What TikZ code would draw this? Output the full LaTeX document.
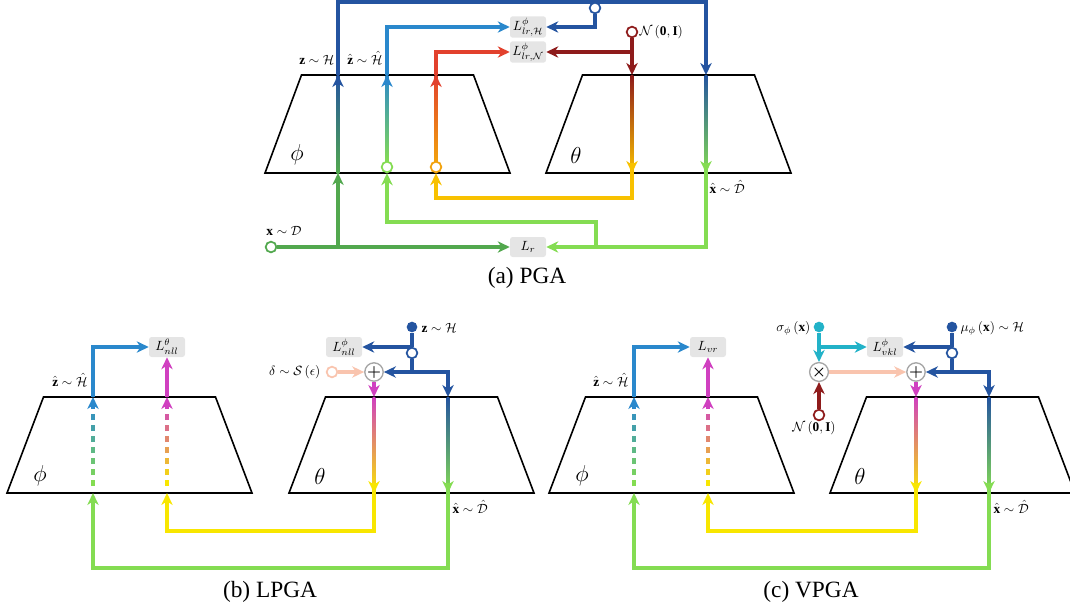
\documentclass[tikz,border=0pt]{standalone}
\usepackage{amsmath}
\usepackage{fontspec}
\setmainfont{Liberation Serif}
\usetikzlibrary{arrows.meta}
\pgfdeclarelayer{bg}
\pgfsetlayers{bg,main}
\definecolor{cDB}{HTML}{2454A0}
\definecolor{cLB}{HTML}{2A88CC}
\definecolor{cRed}{HTML}{E2412D}
\definecolor{cOr}{HTML}{F2A20C}
\definecolor{cDR}{HTML}{8E1B1B}
\definecolor{cGold}{HTML}{F8C100}
\definecolor{cYel}{HTML}{F8E600}
\definecolor{cDG}{HTML}{52A84E}
\definecolor{cLG}{HTML}{84DC52}
\definecolor{cMag}{HTML}{D040C0}
\definecolor{cSal}{HTML}{F9C4AE}
\definecolor{cCy}{HTML}{22B2C8}
\newcommand\trapz[3]{\draw[trap] ({#1+36.5},#2) -- ({#1+208.5},#2) -- ({#1+245},#3) -- (#1,#3) -- cycle;}
\newcommand\gradln[5]{\shade[top color=#4,bottom color=#5] ({#1-1.35},#2) rectangle ({#1+1.35},#3);}
\newcommand\dgradln[5]{\foreach \i in {0,...,7}{\pgfmathtruncatemacro\pct{100*\i/7}\pgfmathsetmacro\ya{#3-7-11*\i}\draw[line width=2.3pt,color=#4!\pct!#5] (#1,\ya) -- (#1,\ya-6);}}
\newcommand\tipup[3]{\draw[arr,#3] (#1,{#2+10}) -- (#1,#2);}
\newcommand\tipdn[3]{\draw[arr,#3] (#1,{#2-10}) -- (#1,#2);}
\begin{document}
\begin{tikzpicture}[x=0.75pt,y=-0.75pt,
  ln/.style={line width=2.3pt},
  arr/.style={line width=2.3pt,-{Stealth[length=9pt,width=8.5pt,inset=2.8pt]}},
  trap/.style={draw=black,line width=1.2pt},
  lossbox/.style={fill=gray!20,rounded corners=2pt,minimum width=27pt,minimum height=15pt,inner sep=1pt},
  ocirc/.style={circle,draw,line width=1.3pt,fill=white,minimum size=8pt,inner sep=0pt},
  fcirc/.style={circle,fill,minimum size=8pt,inner sep=0pt},
  opcirc/.style={circle,draw=gray!70,line width=1pt,fill=white,minimum size=13pt,inner sep=0pt,font=\large},
  lbl/.style={inner sep=1pt},
  greek/.style={font=\fontsize{17}{20}\selectfont},
  captxt/.style={font=\fontsize{17.5}{20}\selectfont}]
\useasboundingbox (0,0) rectangle (1070,611);
% ================= (a) PGA =================
\node[lossbox] (Llh) at (528,27) {$L^{\phi}_{lr,\mathcal{H}}$};
\node[lossbox] (Lln) at (528,52) {$L^{\phi}_{lr,\mathcal{N}}$};
\node[lossbox] (Lr) at (528,247) {$L_r$};
\node[ocirc,draw=cDG] (xd) at (271,247) {};
\node[ocirc,draw=cDR] (nz) at (632,32) {};
\node[ocirc,draw=cDB] (zt) at (595,8) {};
\node[ocirc,draw=cLG] (cz) at (387,167) {};
\node[ocirc,draw=cOr] (cr) at (436,167) {};
\coordinate (azT) at (338,75); \coordinate (azB) at (338,173);
\coordinate (bzT) at (387,75);
\coordinate (arT) at (436,75);
\coordinate (nzT) at (632,75); \coordinate (nzB) at (632,173);
\coordinate (bxT) at (706,75); \coordinate (bxB) at (706,173);
\coordinate (atop) at (706,2);
\coordinate (ay) at (632,198);
\coordinate (ag1) at (596,247); \coordinate (ag2) at (596,222);
\node[lbl,anchor=base east] (lz) at (336,64) {$\mathbf{z}\sim\mathcal{H}$};
\node[lbl,anchor=base east] (lzh) at (384,64) {$\hat{\mathbf{z}}\sim\hat{\mathcal{H}}$};
\node[lbl,anchor=west] (lnz) at (638,32) {$\mathcal{N}\left(\mathbf{0},\mathbf{I}\right)$};
\node[lbl] (lx) at (284,231) {$\mathbf{x}\sim\mathcal{D}$};
\node[lbl,anchor=west] (lxh) at (708,187) {$\hat{\mathbf{x}}\sim\hat{\mathcal{D}}$};
\node[greek] (phia) at (297,155) {$\phi$};
\node[greek] (tha) at (576,155) {$\theta$};
\node[captxt] (capa) at (527,278) {(a) PGA};
\begin{pgfonlayer}{bg}
\trapz{265}{75}{173}
\trapz{546}{75}{173}
\gradln{338}{75}{173}{cDB}{cDG}
\gradln{387}{75}{162}{cLB}{cLG}
\gradln{436}{75}{162}{cRed}{cOr}
\gradln{632}{75}{173}{cDR}{cGold}
\gradln{706}{75}{173}{cDB}{cLG}
\tipup{338}{75}{cDB}
\tipup{387}{75}{cLB}
\tipup{436}{75}{cRed}
\tipdn{632}{173}{cGold}
\tipdn{706}{173}{cLG}
\draw[arr,cDG] (xd) -- (Lr);
\draw[arr,cDG] (xd -| azB) -- (azB);
\draw[arr,cDB] (azT) |- (atop) -- (bxT);
\draw[arr,cDB] (zt) |- (Llh);
\draw[arr,cLB] (bzT) |- (Llh);
\draw[arr,cRed] (arT) |- (Lln);
\draw[arr,cDR] (nz) -- (nzT);
\draw[arr,cDR] (nz |- Lln) -- (Lln);
\draw[arr,cGold] (nzB) -- (ay) -| (cr);
\draw[arr,cLG] (bxB) |- (Lr);
\draw[arr,cLG] (ag1) -- (ag2) -| (cz);
\end{pgfonlayer}
% ================= (b) LPGA =================
\node[lossbox] (Lnt) at (167,347) {$L^{\theta}_{nll}$};
\node[lossbox] (Lnp) at (344,347) {$L^{\phi}_{nll}$};
\node[fcirc,cDB] (zb) at (412,327) {};
\node[ocirc,draw=cDB] (zo) at (412,353) {};
\node[opcirc] (pl) at (374,372) {$\boldsymbol{+}$};
\node[ocirc,draw=cSal] (dl) at (332,372) {};
\coordinate (bzT) at (93,397); \coordinate (bzB) at (93,493);
\coordinate (bmT) at (167,397); \coordinate (bmB) at (167,493);
\coordinate (bpT) at (374,397); \coordinate (bpB) at (374,493);
\coordinate (bbT) at (448,397); \coordinate (bbB) at (448,493);
\coordinate (by) at (374,531); \coordinate (bg) at (448,568);
\node[lbl,anchor=base east] (lzb) at (89,386) {$\hat{\mathbf{z}}\sim\hat{\mathcal{H}}$};
\node[lbl,anchor=east] (ldb) at (322,372) {$\delta\sim\mathcal{S}\left(\epsilon\right)$};
\node[lbl,anchor=west] (lzzb) at (420,328) {$\mathbf{z}\sim\mathcal{H}$};
\node[lbl,anchor=west] (lxb) at (451,507) {$\hat{\mathbf{x}}\sim\hat{\mathcal{D}}$};
\node[greek] (phib) at (40,476) {$\phi$};
\node[greek] (thb) at (320,476) {$\theta$};
\node[captxt] (capb) at (270,592) {(b) LPGA};
\begin{pgfonlayer}{bg}
\trapz{7}{397}{493}
\trapz{289}{397}{493}
\dgradln{93}{397}{493}{cLB}{cLG}
\dgradln{167}{397}{493}{cMag}{cYel}
\tipup{93}{397}{cLB}
\tipup{167}{397}{cMag}
\gradln{374}{397}{493}{cMag}{cYel}
\gradln{448}{397}{493}{cDB}{cLG}
\tipdn{374}{493}{cYel}
\tipdn{448}{493}{cLG}
\draw[arr,cLB] (bzT) |- (Lnt);
\draw[arr,cMag] (bmT) -- (Lnt);
\draw[ln,cDB] (zb) -- (zo);
\draw[arr,cDB] (zb |- Lnp) -- (Lnp);
\draw[arr,cDB] (zo) |- (pl);
\draw[arr,cDB] (zo |- pl) -| (bbT);
\draw[arr,cSal] (dl) -- (pl);
\draw[arr,cMag] (pl) -- (bpT);
\draw[arr,cYel] (bpB) -- (by) -| (bmB);
\draw[arr,cLG] (bbB) -- (bg) -| (bzB);
\end{pgfonlayer}
% ================= (c) VPGA =================
\node[lossbox] (Lvr) at (708,347) {$L_{vr}$};
\node[lossbox] (Lvk) at (885,347) {$L^{\phi}_{vkl}$};
\node[fcirc,cDB] (mu) at (952,327) {};
\node[ocirc,draw=cDB] (muo) at (952,353) {};
\node[opcirc] (pl2) at (916,372) {$\boldsymbol{+}$};
\node[fcirc,cCy] (sg) at (819,327) {};
\node[opcirc] (tm) at (819,372) {$\boldsymbol{\times}$};
\node[ocirc,draw=cDR] (nz2) at (819,415) {};
\coordinate (czT) at (634,397); \coordinate (czB) at (634,493);
\coordinate (cmT) at (708,397); \coordinate (cmB) at (708,493);
\coordinate (cpT) at (916,397); \coordinate (cpB) at (916,493);
\coordinate (ccT) at (989,397); \coordinate (ccB) at (989,493);
\coordinate (cy) at (916,531); \coordinate (cg) at (989,568);
\node[lbl,anchor=base east] (lzc) at (630,386) {$\hat{\mathbf{z}}\sim\hat{\mathcal{H}}$};
\node[lbl,anchor=east] (lsg) at (812,328) {$\sigma_{\phi}\left(\mathbf{x}\right)$};
\node[lbl,anchor=west] (lmu) at (959,328) {$\mu_{\phi}\left(\mathbf{x}\right)\sim\mathcal{H}$};
\node[lbl] (lnc) at (814,428) {$\mathcal{N}\left(\mathbf{0},\mathbf{I}\right)$};
\node[lbl,anchor=west] (lxc) at (992,507) {$\hat{\mathbf{x}}\sim\hat{\mathcal{D}}$};
\node[greek] (phic) at (582,476) {$\phi$};
\node[greek] (thc) at (860,476) {$\theta$};
\node[captxt] (capc) at (811,592) {(c) VPGA};
\begin{pgfonlayer}{bg}
\trapz{549}{397}{493}
\trapz{830}{397}{493}
\dgradln{634}{397}{493}{cLB}{cLG}
\dgradln{708}{397}{493}{cMag}{cYel}
\tipup{634}{397}{cLB}
\tipup{708}{397}{cMag}
\gradln{916}{397}{493}{cMag}{cYel}
\gradln{989}{397}{493}{cDB}{cLG}
\tipdn{916}{493}{cYel}
\tipdn{989}{493}{cLG}
\draw[arr,cLB] (czT) |- (Lvr);
\draw[arr,cMag] (cmT) -- (Lvr);
\draw[arr,cCy] (sg) -- (tm);
\draw[arr,cCy] (sg |- Lvk) -- (Lvk);
\draw[arr,cDR] (nz2) -- (tm);
\draw[arr,cSal] (tm) -- (pl2);
\draw[ln,cDB] (mu) -- (muo);
\draw[arr,cDB] (mu |- Lvk) -- (Lvk);
\draw[arr,cDB] (muo) |- (pl2);
\draw[arr,cDB] (muo |- pl2) -| (ccT);
\draw[arr,cMag] (pl2) -- (cpT);
\draw[arr,cYel] (cpB) -- (cy) -| (cmB);
\draw[arr,cLG] (ccB) -- (cg) -| (czB);
\end{pgfonlayer}
\end{tikzpicture}
\end{document}
